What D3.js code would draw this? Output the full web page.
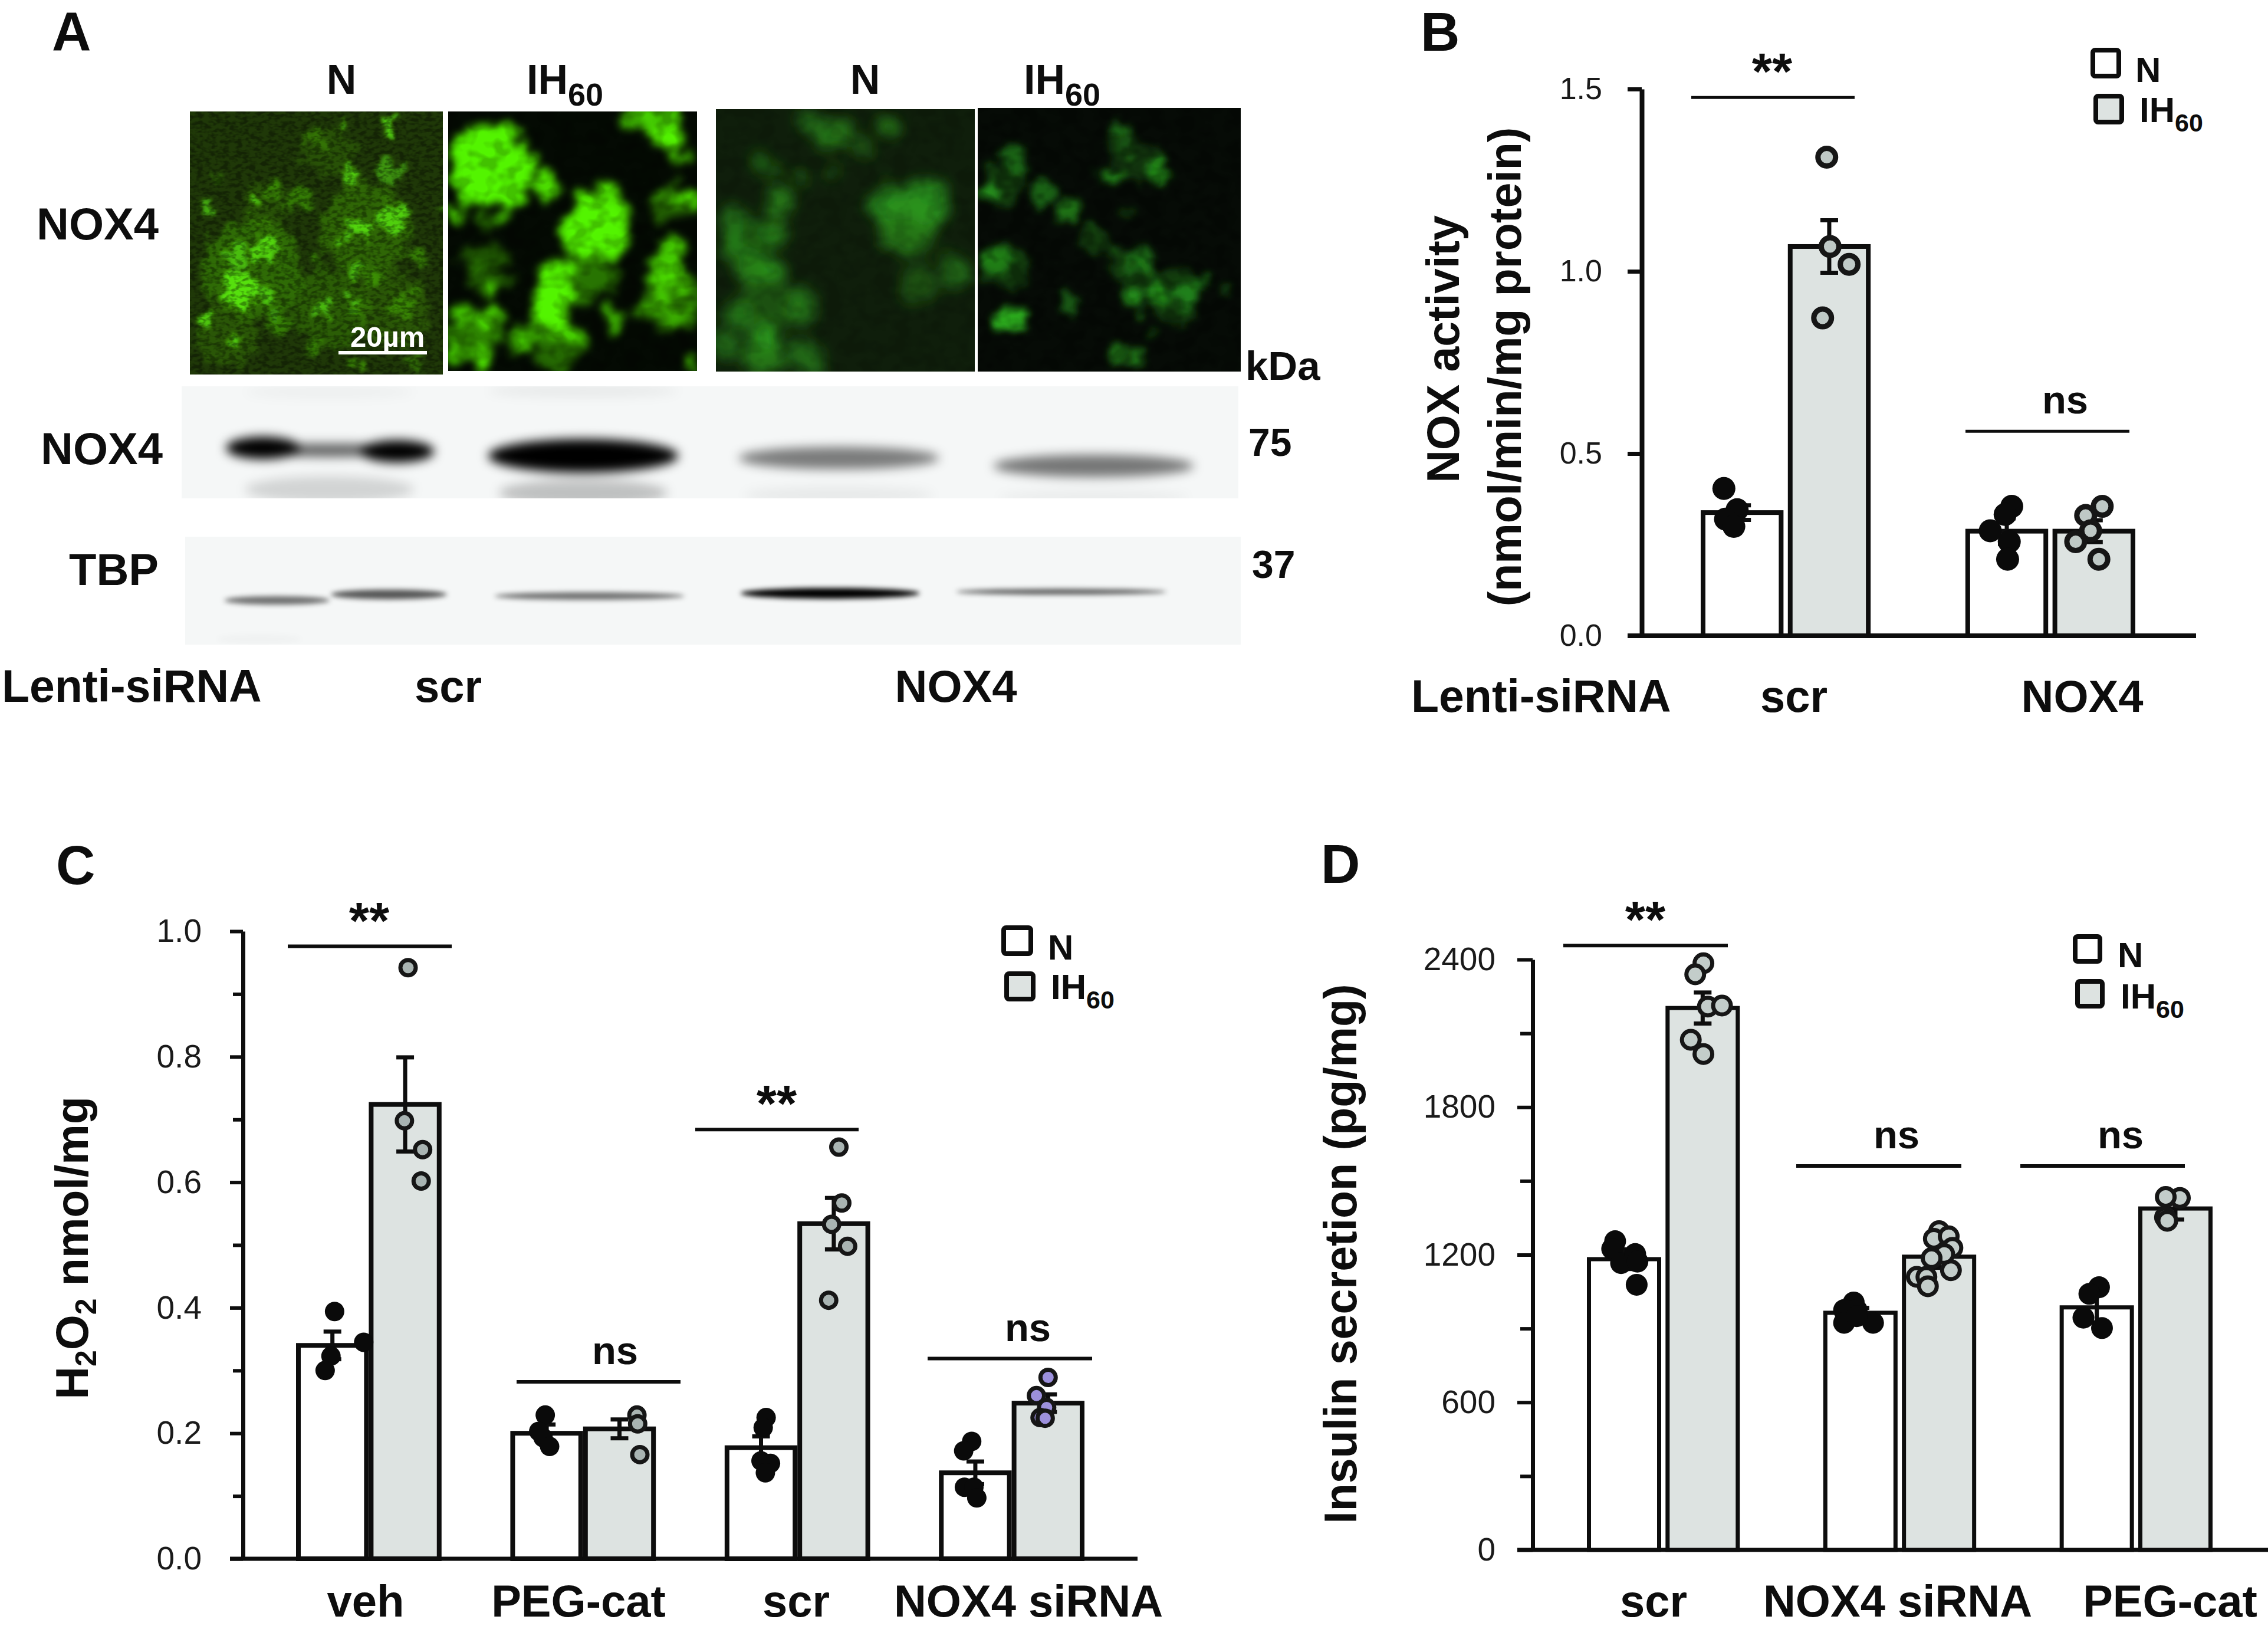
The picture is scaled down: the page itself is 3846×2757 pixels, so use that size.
<!DOCTYPE html>
<html lang="en">
<head>
<meta charset="UTF-8">
<title>NOX4 panels</title>
<script src="https://d3js.org/d3.v7.min.js"></script>
<style>
  body { margin: 0; background: white; }
  text { font-family: "Liberation Sans", Arial, sans-serif; fill: #0d0d0d; }
</style>
</head>
<body>
<div id="fig"></div>
<script>
// ---- panel B data
var b_cats = ["scr", "NOX4"];
var b_nMean = [0.338, 0.287];
var b_ihMean = [1.068, 0.287];
var b_nErr = [0.02, 0.035];
var b_ihErr = [0.072, 0.03];
var b_nPts = [[0.404, 0.346, 0.32, 0.30], [0.355, 0.333, 0.288, 0.258, 0.21]];
var b_nJit = [[-0.22, -0.06, -0.20, -0.10], [0.06, -0.02, -0.20, 0.03, 0.01]];
var b_ihPts = [[1.313, 1.068, 1.019, 0.872], [0.355, 0.33, 0.288, 0.258, 0.21]];
var b_ihJit = [[-0.03, 0.01, 0.24, -0.08], [0.10, -0.10, -0.04, -0.22, 0.06]];
var b_sig = ["**", "ns"];
var b_sigVal = [1.477, 0.561];

// ---- panel C data
var c_cats = ["veh", "PEG-cat", "scr", "NOX4 siRNA"];
var c_nMean = [0.340, 0.200, 0.177, 0.137];
var c_ihMean = [0.724, 0.207, 0.534, 0.248];
var c_nErr = [0.022, 0.014, 0.018, 0.018];
var c_ihErr = [0.075, 0.015, 0.041, 0.014];
var c_nPts = [[0.394, 0.345, 0.323, 0.30], [0.229, 0.203, 0.193, 0.179], [0.225, 0.209, 0.156, 0.152, 0.137], [0.187, 0.172, 0.114, 0.114, 0.097]];
var c_nJit = [[0.03, 0.43, -0.02, -0.10], [-0.02, -0.11, -0.05, 0.04], [0.07, 0.03, 0, 0.13, 0.06], [-0.05, -0.16, -0.15, -0.02, 0.02]];
var c_ihPts = [[0.942, 0.698, 0.652, 0.602], [0.229, 0.215, 0.166], [0.656, 0.567, 0.533, 0.498, 0.412], [0.289, 0.26, 0.241, 0.225, 0.224]];
var c_ihJit = [[0.04, -0.01, 0.24, 0.22], [0.24, 0.25, 0.28], [0.07, 0.11, -0.03, 0.19, -0.07], [0, -0.16, -0.02, -0.11, -0.04]];
var c_sig = ["**", "ns", "**", "ns"];
var c_sigVal = [0.976, 0.282, 0.684, 0.319];

// ---- panel D data
var d_cats = ["scr", "NOX4 siRNA", "PEG-cat"];
var d_nMean = [1182, 964, 986];
var d_ihMean = [2203, 1192, 1388];
var d_nErr = [40, 20, 62];
var d_ihErr = [63, 45, 45];
var d_nPts = [[1255, 1224, 1166, 1203, 1172, 1078], [1006, 975, 975, 923, 923, 950], [1068, 1041, 944, 902]];
var d_nJit = [[-0.12, -0.16, -0.04, 0.15, 0.18, 0.17], [-0.09, -0.22, -0.05, -0.22, 0.17, -0.05], [0.03, -0.10, -0.18, 0.07]];
var d_ihPts = [[2385, 2340, 2209, 2213, 2074, 2016], [1296, 1265, 1275, 1228, 1203, 1186, 1137, 1110, 1110, 1072], [1431, 1435, 1352, 1338]];
var d_ihJit = [[0.01, -0.10, 0.07, 0.26, -0.16, 0.01], [0, -0.07, 0.13, 0.18, 0.07, -0.10, 0.16, -0.30, -0.17, -0.15], [0.06, -0.13, -0.14, -0.11]];
var d_sig = ["**", "ns", "ns"];
var d_sigVal = [2457, 1561, 1561];

// ---- panel A: micrograph blobs as [x frac, y frac, radius frac of width, intensity]
var img1_blobs = [[.25,.6,.2,.3],[.7,.45,.18,.28],[.55,.75,.15,.22],[.15,.85,.12,.18],[.8,.75,.15,.18],[.55,.15,.1,.15],[.3,.35,.1,.15],
  [.20,.675,.075,1],[.30,.52,.055,.9],[.18,.55,.045,.7],[.795,.40,.06,.85],[.67,.436,.04,.9],[.61,.49,.02,.9],[.26,.355,.025,1],
  [.64,.245,.035,.9],[.79,.235,.05,.55],[.605,.05,.02,.9],[.78,.055,.03,.9],[.52,.74,.03,.7],[.55,.79,.02,1],[.64,.72,.02,.8],[.65,.62,.03,.7],
  [.05,.8,.03,.9],[.19,.87,.018,1],[.31,.69,.025,.8],[.08,.37,.025,.7],[.99,.36,.02,.8],[.33,.30,.03,.4],[.44,.33,.05,.4],[.73,.64,.04,.4],
  [.5,.58,.03,.4],[.35,.8,.05,.4],[.49,.9,.03,.4],[.67,.97,.03,.5],[.84,.73,.05,.35],[.5,.1,.04,.25],[.1,.25,.02,.4],[.88,.95,.03,.3],[.9,.55,.03,.4]];
var img2_blobs = [[.15,.6,.1,.3],[.9,.72,.12,.4],[.55,.62,.12,.45],[.1,.85,.12,.5],[.45,.9,.1,.4],[.9,.35,.08,.35],
  [.175,.207,.17,1],[.41,.29,.055,.9],[.60,.45,.13,1],[.6,.35,.08,.9],[.43,.68,.09,1],[.41,.79,.07,1],[.895,.115,.06,1],[.84,.03,.07,.8],
  [.965,.33,.05,.9],[.045,.40,.04,.9],[.215,.41,.03,.7],[.15,.43,.025,.5],[.05,.79,.04,.8],[.16,.79,.045,.9],[.11,.6,.03,.5],[.175,.69,.03,.7],
  [.30,.865,.05,.8],[.5,.865,.045,.8],[.665,.81,.05,.7],[.87,.62,.06,.8],[.895,.525,.05,.8],[.87,.72,.04,.7],[.965,.67,.03,.7],[.79,.77,.04,.5],
  [.91,.78,.05,.5],[.135,.94,.04,.9],[.03,.95,.04,.8],[.99,.96,.03,.8],[.95,.18,.03,.6],[.75,.01,.06,.7],[.83,.34,.015,.9],[.27,.93,.02,.6]];
var img3_blobs = [[.37,.055,.06,.6],[.48,.09,.05,.7],[.42,.13,.04,.7],[.68,.065,.04,.7],[.575,.15,.05,.4],[.175,.205,.04,.5],[.23,.235,.03,.5],
  [.34,.26,.04,.5],[.45,.25,.03,.4],[.66,.265,.02,.4],[.66,.36,.07,.85],[.82,.34,.09,.85],[.74,.45,.11,.7],[.92,.62,.05,.6],[.78,.66,.07,.4],
  [.89,.565,.02,.5],[.245,.35,.05,.7],[.065,.42,.05,.6],[.23,.475,.06,.7],[.065,.505,.05,.7],[.15,.61,.08,.7],[.215,.62,.04,.9],[.025,.57,.03,.6],
  [.325,.75,.07,.6],[.2,.86,.055,1],[.08,.79,.05,.6],[.34,.94,.07,.6],[.175,.94,.08,.7],[.04,.90,.05,.6],[.13,.5,.1,.35],[.2,.75,.12,.4]];
var img4_blobs = [[.45,.5,.06,.3],[.55,.6,.06,.3],[.62,.66,.07,.3],[.1,.6,.09,.3],[.1,.3,.08,.3],[.6,.2,.08,.25],[.55,.12,.05,.3],[.75,.72,.1,.3],
  [.535,.08,.035,.5],[.51,.27,.04,.7],[.685,.245,.05,.75],[.57,.195,.008,1],[.435,.245,.008,.7],[.14,.195,.05,.55],[.045,.225,.02,.4],
  [.04,.32,.04,.75],[.07,.36,.008,.9],[.25,.32,.05,.55],[.345,.395,.05,.65],[.415,.44,.02,.5],[.52,.53,.02,.5],[.63,.57,.05,.55],[.57,.40,.03,.3],
  [.07,.58,.06,.6],[.025,.565,.01,.9],[.065,.655,.008,1],[.125,.805,.06,1],[.125,.805,.035,1],[.34,.745,.04,.5],[.59,.71,.04,.75],[.63,.775,.012,1],
  [.685,.71,.05,.7],[.795,.71,.05,.65],[.85,.65,.035,.6],[.945,.70,.025,.3],[.535,.935,.03,.65],[.6,.94,.03,.65],[.645,.85,.015,.4]];

// ---- panel A: blot bands as [x frac, y frac, rx frac, ry frac, density]
var nox4_bands = [[.077,.55,.035,.10,1],[.204,.58,.035,.10,1],[.14,.57,.08,.06,.6],[.38,.62,.09,.15,1],[.38,.62,.08,.10,1],[.622,.64,.095,.10,.5],[.863,.71,.095,.10,.52],
  [.14,.92,.08,.12,.14],[.38,.95,.08,.12,.22],[.14,.05,.08,.06,.03],[.38,.04,.09,.06,.05],[.622,.97,.09,.08,.05],[.863,.99,.09,.07,.04]];
var tbp_bands = [[.087,.59,.05,.04,.55],[.193,.535,.055,.045,.65],[.383,.55,.09,.035,.55],[.611,.525,.085,.05,1],[.83,.51,.1,.026,.65],[.07,.95,.04,.05,.02]];

var W = 3846, H = 2757;
var svg = d3.select("#fig").append("svg").attr("width", W).attr("height", H).style("display", "block");
var defs = svg.append("defs");

function blurDef(id, sd) {
  defs.append("filter").attr("id", id)
    .attr("x", "-20%").attr("y", "-20%").attr("width", "140%").attr("height", "140%")
    .append("feGaussianBlur").attr("stdDeviation", sd);
}
blurDef("blur4", 4);
blurDef("blur9", 9);

// warps the round blobs so that they look like clumps of cells
function warpDef(id, freq, scale, sd) {
  var f = defs.append("filter").attr("id", id)
    .attr("x", "-20%").attr("y", "-20%").attr("width", "140%").attr("height", "140%");
  f.append("feTurbulence").attr("type", "fractalNoise").attr("baseFrequency", freq).attr("numOctaves", 3).attr("seed", 7).attr("result", "n");
  f.append("feDisplacementMap").attr("in", "SourceGraphic").attr("in2", "n").attr("scale", scale)
    .attr("xChannelSelector", "R").attr("yChannelSelector", "G").attr("result", "d");
  f.append("feGaussianBlur").attr("in", "d").attr("stdDeviation", sd);
}
warpDef("warp1", "0.05", 50, 3);
warpDef("warp2", "0.03", 60, 7);
warpDef("warp3", "0.02", 40, 11);
warpDef("warp4", "0.04", 40, 6);

// noise used to mottle the micrographs
function noiseDef(id, freq, contrast) {
  var f = defs.append("filter").attr("id", id).attr("x", 0).attr("y", 0).attr("width", "100%").attr("height", "100%");
  f.append("feTurbulence").attr("type", "fractalNoise").attr("baseFrequency", freq).attr("numOctaves", 2).attr("seed", 4);
  f.append("feColorMatrix").attr("values", "0 0 0 0 0  0 0 0 0 0  0 0 0 0 0  " + contrast + " 0 0 0 " + (-contrast * 0.42));
}
noiseDef("noiseFine", "0.09 0.16", 4);
noiseDef("noiseCell", "0.035 0.045", 4);

function micrograph(id, blobs, box, bg, col, warp, noise, noiseOp) {
  defs.append("clipPath").attr("id", "clip" + id).append("rect")
    .attr("x", box.x0).attr("y", box.y0).attr("width", box.x1 - box.x0).attr("height", box.y1 - box.y0);
  var fx = d3.scaleLinear().domain([0, 1]).range([box.x0, box.x1]);
  var fy = d3.scaleLinear().domain([0, 1]).range([box.y0, box.y1]);
  var fr = d3.scaleLinear().domain([0, 1]).range([0, box.x1 - box.x0]);
  var g = svg.append("g").attr("clip-path", "url(#clip" + id + ")");
  g.append("rect").attr("x", box.x0).attr("y", box.y0).attr("width", box.x1 - box.x0).attr("height", box.y1 - box.y0).attr("fill", bg);
  g.append("g").attr("filter", "url(#" + warp + ")")
    .selectAll("circle").data(blobs).enter().append("circle")
    .attr("cx", function(d) { return fx(d[0]); })
    .attr("cy", function(d) { return fy(d[1]); })
    .attr("r", function(d) { return fr(d[2]); })
    .attr("fill", col)
    .attr("fill-opacity", function(d) { return d[3]; });
  g.append("rect").attr("x", box.x0).attr("y", box.y0).attr("width", box.x1 - box.x0).attr("height", box.y1 - box.y0)
    .attr("filter", "url(#" + noise + ")").attr("opacity", noiseOp);
}

micrograph("1", img1_blobs, {x0: 322, x1: 751, y0: 189, y1: 635}, "#1f3808", "#56e00c", "warp1", "noiseFine", 0.35);
micrograph("2", img2_blobs, {x0: 760, x1: 1182, y0: 189, y1: 629}, "#040a03", "#53f404", "warp2", "noiseCell", 0.2);
micrograph("3", img3_blobs, {x0: 1214, x1: 1653, y0: 185, y1: 630}, "#0f1e0b", "#2c9a1c", "warp3", "noiseCell", 0.12);
micrograph("4", img4_blobs, {x0: 1658, x1: 2104, y0: 183, y1: 630}, "#060b06", "#2aa81e", "warp4", "noiseCell", 0.25);

// scale bar in first image
svg.append("rect").attr("x", 574).attr("y", 595).attr("width", 150).attr("height", 6).attr("fill", "white");
svg.append("text").attr("x", 594).attr("y", 588).attr("font-size", 49).attr("font-weight", "bold").style("fill", "white").text("20µm");

function blot(id, bands, box, blur) {
  defs.append("clipPath").attr("id", "clip" + id).append("rect")
    .attr("x", box.x0).attr("y", box.y0).attr("width", box.x1 - box.x0).attr("height", box.y1 - box.y0);
  var fx = d3.scaleLinear().domain([0, 1]).range([box.x0, box.x1]);
  var fy = d3.scaleLinear().domain([0, 1]).range([box.y0, box.y1]);
  var g = svg.append("g").attr("clip-path", "url(#clip" + id + ")");
  g.append("rect").attr("x", box.x0).attr("y", box.y0).attr("width", box.x1 - box.x0).attr("height", box.y1 - box.y0).attr("fill", "#f5f7f7");
  g.append("g").attr("filter", "url(#" + blur + ")")
    .selectAll("ellipse").data(bands).enter().append("ellipse")
    .attr("cx", function(d) { return fx(d[0]); })
    .attr("cy", function(d) { return fy(d[1]); })
    .attr("rx", function(d) { return fx(d[2]) - box.x0; })
    .attr("ry", function(d) { return fy(d[3]) - box.y0; })
    .attr("fill", "#050505")
    .attr("fill-opacity", function(d) { return d[4]; });
}
blot("nox", nox4_bands, {x0: 308, x1: 2100, y0: 655, y1: 845}, "blur9");
blot("tbp", tbp_bands, {x0: 314, x1: 2104, y0: 910, y1: 1093}, "blur4");

function label(x, y, str, size, anchor, weight) {
  return svg.append("text").attr("x", x).attr("y", y).attr("font-size", size)
    .attr("text-anchor", anchor || "start").attr("font-weight", weight || "bold").text(str);
}
function ih60(x, y, size, subSize, subDy) {
  var t = label(x, y, "IH", size);
  t.append("tspan").attr("dy", subDy).attr("font-size", subSize).text("60");
}

// panel A texts
label(88, 85, "A", 92);
label(579, 159, "N", 70, "middle");
ih60(893, 159, 70, 54, 20);
label(1467, 159, "N", 70, "middle");
ih60(1736, 159, 70, 54, 20);
label(62, 406, "NOX4", 76);
label(69, 787, "NOX4", 76);
label(117, 992, "TBP", 76);
label(3, 1190, "Lenti-siRNA", 77);
label(760, 1190, "scr", 76, "middle");
label(1621, 1190, "NOX4", 76, "middle");
label(2112, 644, "kDa", 69);
label(2117, 773, "75", 66);
label(2123, 980, "37", 66);

function legend(s) {
  svg.append("rect").attr("x", s.n[0]).attr("y", s.n[1]).attr("width", s.n[2]).attr("height", s.n[3]).attr("rx", 4)
    .attr("fill", "white").attr("stroke", "#0d0d0d").attr("stroke-width", 8);
  svg.append("rect").attr("x", s.ih[0]).attr("y", s.ih[1]).attr("width", s.ih[2]).attr("height", s.ih[3]).attr("rx", 4)
    .attr("fill", "#dde3e1").attr("stroke", "#0d0d0d").attr("stroke-width", 8);
  label(s.nText[0], s.nText[1], "N", 60);
  ih60(s.ihText[0], s.ihText[1], 60, 43, 16);
}

function barPanel(p) {
  var y = d3.scaleLinear().domain(p.domain).range([p.y0, p.y1]);
  var xOuter = d3.scaleBand().domain(p.cats).range(p.barRange).paddingInner(p.padOuter);
  var xInner = d3.scaleBand().domain(["N", "IH60"]).range([0, xOuter.bandwidth()]).paddingInner(p.padInner);
  var g = svg.append("g");

  // axes
  var minor = g.append("g").attr("transform", "translate(" + p.axisX + ",0)")
    .call(d3.axisLeft(y).tickValues(p.minorTicks).tickSize(p.tickLen - 5).tickFormat("").tickSizeOuter(0));
  minor.select(".domain").remove();
  var major = g.append("g").attr("transform", "translate(" + p.axisX + ",0)")
    .call(d3.axisLeft(y).tickValues(p.majorTicks).tickSize(p.tickLen).tickPadding(p.tickPad).tickFormat(d3.format(p.fmt)).tickSizeOuter(0));
  major.selectAll("text").attr("font-size", p.tickFont).attr("font-family", '"Liberation Sans"').style("fill", "#1a1a1a");
  major.select(".domain").attr("stroke", "#0d0d0d").attr("stroke-width", p.axisW);
  g.selectAll(".tick line").attr("stroke", "#0d0d0d").attr("stroke-width", p.axisW - 1);
  g.append("line").attr("x1", p.axisX - p.tickLen).attr("x2", p.axisEnd)
    .attr("y1", y(0)).attr("y2", y(0)).attr("stroke", "#0d0d0d").attr("stroke-width", p.axisW);

  // flat records for each bar
  var bars = [];
  p.cats.forEach(function(c, i) {
    bars.push({cat: c, grp: "N", mean: p.nMean[i], err: p.nErr[i], pts: p.nPts[i], jit: p.nJit[i]});
    bars.push({cat: c, grp: "IH60", mean: p.ihMean[i], err: p.ihErr[i], pts: p.ihPts[i], jit: p.ihJit[i]});
  });
  function left(d) { return xOuter(d.cat) + xInner(d.grp); }
  function mid(d) { return left(d) + xInner.bandwidth() / 2; }

  g.selectAll(".bar").data(bars).enter().append("rect").attr("class", "bar")
    .attr("x", function(d) { return left(d) + p.barW / 2; })
    .attr("y", function(d) { return y(d.mean); })
    .attr("width", xInner.bandwidth() - p.barW)
    .attr("height", function(d) { return y(0) - y(d.mean); })
    .attr("fill", function(d) { return d.grp == "N" ? "white" : "#dde3e1"; })
    .attr("stroke", "#0d0d0d").attr("stroke-width", p.barW);

  // error bars
  var err = g.selectAll(".err").data(bars).enter().append("g").attr("class", "err")
    .attr("stroke", "#0d0d0d").attr("stroke-width", p.errW);
  err.append("line").attr("x1", mid).attr("x2", mid)
    .attr("y1", function(d) { return y(d.mean + d.err); })
    .attr("y2", function(d) { return y(d.mean - d.err); });
  [1, -1].forEach(function(sign) {
    err.append("line")
      .attr("x1", function(d) { return mid(d) - 15; })
      .attr("x2", function(d) { return mid(d) + 15; })
      .attr("y1", function(d) { return y(d.mean + sign * d.err); })
      .attr("y2", function(d) { return y(d.mean + sign * d.err); });
  });

  // individual points
  var pts = [];
  bars.forEach(function(b) {
    b.pts.forEach(function(v, i) {
      pts.push({cat: b.cat, grp: b.grp, v: v, x: mid(b) + b.jit[i] * xInner.bandwidth()});
    });
  });
  g.selectAll(".pt").data(pts).enter().append("circle").attr("class", "pt")
    .attr("cx", function(d) { return d.x; })
    .attr("cy", function(d) { return y(d.v); })
    .attr("r", function(d) { return d.grp == "N" ? p.ptR + p.ptW / 2 : p.ptR; })
    .attr("fill", function(d) {
      if (d.grp == "N") return "#0a0a0a";
      return d.cat == p.accentCat ? "#9c90dc" : p.ptFill;
    })
    .attr("stroke", function(d) { return d.grp == "N" ? "none" : "#161616"; })
    .attr("stroke-width", p.ptW);

  // significance brackets
  p.sig.forEach(function(s, i) {
    var yy = y(p.sigVal[i]);
    g.append("line").attr("x1", p.sigX[i][0]).attr("x2", p.sigX[i][1])
      .attr("y1", yy).attr("y2", yy).attr("stroke", "#0d0d0d").attr("stroke-width", p.sigW);
    if (s == "**") label(p.sigX[i][2], yy - 14, s, 88, "middle");
    else label(p.sigX[i][2], yy - 30, s, 67, "middle");
  });

  // category labels
  p.cats.forEach(function(c, i) {
    label(p.catX[i], p.catY, c, p.catFont, "middle");
  });
  legend(p.legend);
}

barPanel({
  cats: b_cats, nMean: b_nMean, ihMean: b_ihMean, nErr: b_nErr, ihErr: b_ihErr,
  nPts: b_nPts, nJit: b_nJit, ihPts: b_ihPts, ihJit: b_ihJit,
  sig: b_sig, sigVal: b_sigVal, sigX: [[2868, 3145, 3005], [3333, 3611, 3502]],
  domain: [0, 1.5], y0: 1078, y1: 151, axisX: 2784, axisEnd: 3724, axisW: 8, tickLen: 24, tickPad: 43,
  majorTicks: [0, 0.5, 1, 1.5], minorTicks: [], fmt: ".1f", tickFont: 52,
  barRange: [2884, 3621], padOuter: 0.358, padInner: 0.05, barW: 8, errW: 7,
  ptR: 15, ptW: 9, ptFill: "#bfc9c6", sigW: 5,
  catX: [3042, 3531], catY: 1207, catFont: 76,
  legend: {n: [3549, 85, 44, 44], ih: [3554, 163, 44, 44], nText: [3621, 139], ihText: [3628, 207]}
});
label(2393, 1207, "Lenti-siRNA", 77);
svg.append("text").attr("transform", "translate(2474,592) rotate(-90)").attr("text-anchor", "middle")
  .attr("font-size", 77).attr("font-weight", "bold").text("NOX activity");
svg.append("text").attr("transform", "translate(2579,622) rotate(-90)").attr("text-anchor", "middle")
  .attr("font-size", 77).attr("font-weight", "bold").text("(nmol/min/mg protein)");
label(2409, 86, "B", 92);

barPanel({
  cats: c_cats, nMean: c_nMean, ihMean: c_ihMean, nErr: c_nErr, ihErr: c_ihErr,
  nPts: c_nPts, nJit: c_nJit, ihPts: c_ihPts, ihJit: c_ihJit,
  sig: c_sig, sigVal: c_sigVal,
  sigX: [[488, 766, 626], [876, 1154, 1043], [1179, 1456, 1317], [1573, 1852, 1743]],
  domain: [0, 1], y0: 2643, y1: 1579, axisX: 412, axisEnd: 1929, axisW: 7, tickLen: 22, tickPad: 48,
  majorTicks: [0, 0.2, 0.4, 0.6, 0.8, 1], minorTicks: [0.1, 0.3, 0.5, 0.7, 0.9], fmt: ".1f", tickFont: 55,
  barRange: [502, 1839], padOuter: 0.321, padInner: 0, barW: 8, errW: 7,
  ptR: 13, ptW: 7, ptFill: "#a9b4b2", sigW: 6, accentCat: "NOX4 siRNA",
  catX: [620, 981, 1350, 1744], catY: 2741, catFont: 76,
  legend: {n: [1702, 1573, 46, 44], ih: [1707, 1651, 45, 43], nText: [1777, 1627], ihText: [1782, 1694]}
});
var c_title = svg.append("text").attr("transform", "translate(149,2116) rotate(-90)").attr("text-anchor", "middle")
  .attr("font-size", 77).attr("font-weight", "bold");
c_title.append("tspan").text("H");
c_title.append("tspan").attr("font-size", 50).attr("dy", 14).text("2");
c_title.append("tspan").attr("dy", -14).text("O");
c_title.append("tspan").attr("font-size", 50).attr("dy", 14).text("2");
c_title.append("tspan").attr("dy", -14).text(" nmol/mg");
label(95, 1499, "C", 92);

barPanel({
  cats: d_cats, nMean: d_nMean, ihMean: d_ihMean, nErr: d_nErr, ihErr: d_ihErr,
  nPts: d_nPts, nJit: d_nJit, ihPts: d_ihPts, ihJit: d_ihJit,
  sig: d_sig, sigVal: d_sigVal,
  sigX: [[2651, 2930, 2790], [3046, 3326, 3216], [3426, 3705, 3596]],
  domain: [0, 2400], y0: 2628, y1: 1627, axisX: 2599, axisEnd: 3846, axisW: 7, tickLen: 26, tickPad: 37,
  majorTicks: [0, 600, 1200, 1800, 2400], minorTicks: [300, 900, 1500, 2100], fmt: "d", tickFont: 55,
  barRange: [2691, 3752], padOuter: 0.353, padInner: 0.055, barW: 7, errW: 7,
  ptR: 15, ptW: 7, ptFill: "#c3cdca", sigW: 6,
  catX: [2804, 3218, 3680], catY: 2741, catFont: 76,
  legend: {n: [3519, 1588, 42, 42], ih: [3523, 1664, 42, 42], nText: [3591, 1640], ihText: [3596, 1710]}
});
svg.append("text").attr("transform", "translate(2300,2126) rotate(-90)").attr("text-anchor", "middle")
  .attr("font-size", 77).attr("font-weight", "bold").text("Insulin secretion (pg/mg)");
label(2240, 1497, "D", 92);
</script>
</body>
</html>
